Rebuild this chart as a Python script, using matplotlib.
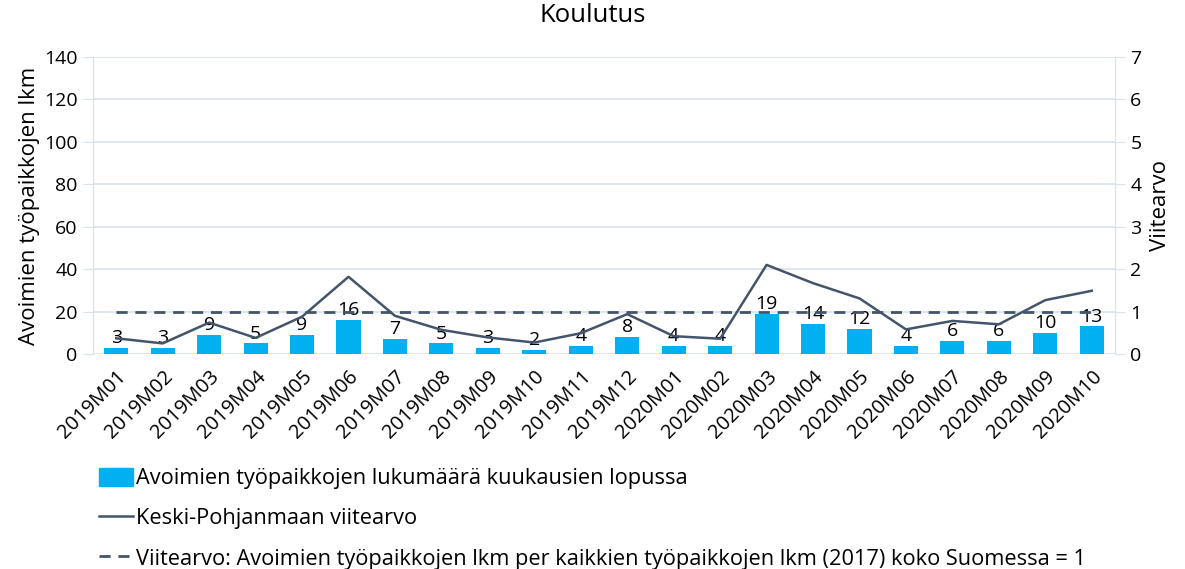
import numpy as np
import matplotlib
matplotlib.use('Agg')
import matplotlib.pyplot as plt
from matplotlib.patches import Patch
from matplotlib.lines import Line2D

plt.rcParams['font.family'] = ['Open Sans', 'DejaVu Sans']

kuukaudet = ['2019M01', '2019M02', '2019M03', '2019M04', '2019M05', '2019M06',
             '2019M07', '2019M08', '2019M09', '2019M10', '2019M11', '2019M12',
             '2020M01', '2020M02', '2020M03', '2020M04', '2020M05', '2020M06',
             '2020M07', '2020M08', '2020M09', '2020M10']
avoimet = [3, 3, 9, 5, 9, 16, 7, 5, 3, 2, 4, 8, 4, 4, 19, 14, 12, 4, 6, 6, 10, 13]
viitearvo = [0.37, 0.25, 0.74, 0.38, 0.88, 1.82, 0.90, 0.57, 0.39, 0.27, 0.49, 0.94,
             0.42, 0.36, 2.10, 1.67, 1.31, 0.58, 0.78, 0.70, 1.27, 1.49]
suomi = [1] * len(kuukaudet)

bar_vari = '#00B0F0'
viiva_vari = '#44546A'
grid_vari = '#D9E1EA'

fig = plt.figure(figsize=(11.85, 5.69), dpi=100)
ax = fig.add_axes([93/1185, 1-354/569, (1115-93)/1185, (354-57)/569])
ax2 = ax.twinx()

x = np.arange(len(kuukaudet))
ax.bar(x, avoimet, width=0.52, color=bar_vari, zorder=2)

# arvot pylväiden päälle
for i, v in enumerate(avoimet):
    ax.text(i, v + 0.4, str(v), ha='center', va='bottom', fontsize=14, color='black', zorder=5)

ax2.plot(x, viitearvo, color=viiva_vari, linewidth=1.8, zorder=3)
ax2.plot(x, suomi, color=viiva_vari, linewidth=2, linestyle=(0, (4, 2.8)), zorder=3)

ax.set_xlim(-0.5, len(kuukaudet) - 0.5)
ax.set_ylim(0, 140)
ax.set_yticks(range(0, 141, 20))
ax2.set_ylim(0, 7)
ax2.set_yticks(range(0, 8))

ax.set_xticks(x)
ax.set_xticklabels(kuukaudet, rotation=45, ha='right', rotation_mode='anchor', fontsize=14.5)
ax.tick_params(axis='x', length=0, pad=9)
ax.tick_params(axis='y', length=7, color=grid_vari, labelsize=14, pad=4)
ax2.tick_params(axis='y', length=7, color=grid_vari, labelsize=14, pad=4)

ax.grid(axis='y', color=grid_vari, linewidth=1.2, zorder=0)
ax.set_axisbelow(True)
for a in (ax, ax2):
    for s in ['top', 'bottom']:
        a.spines[s].set_visible(False)
    a.spines['left'].set_color(grid_vari)
    a.spines['right'].set_color(grid_vari)

ax.set_ylabel('Avoimien työpaikkojen lkm', fontsize=16, labelpad=3)
ax2.set_ylabel('Viitearvo', fontsize=16, labelpad=6)
fig.suptitle('Koulutus', fontsize=18.5, y=0.995)

kahvat = [Patch(color=bar_vari),
          Line2D([0], [0], color=viiva_vari, linewidth=1.8),
          Line2D([0], [0], color=viiva_vari, linewidth=2, linestyle=(0, (4, 2.8)))]
nimet = ['Avoimien työpaikkojen lukumäärä kuukausien lopussa',
         'Keski-Pohjanmaan viitearvo',
         'Viitearvo: Avoimien työpaikkojen lkm per kaikkien työpaikkojen lkm (2017) koko Suomessa = 1']
fig.legend(kahvat, nimet, loc='upper left', bbox_to_anchor=(90/1185, 1-459/569),
           frameon=False, fontsize=15.7, handlelength=1.55, handleheight=0.9,
           handletextpad=0.15, labelspacing=0.85, borderaxespad=0)

fig.savefig('out.png', dpi=100)
